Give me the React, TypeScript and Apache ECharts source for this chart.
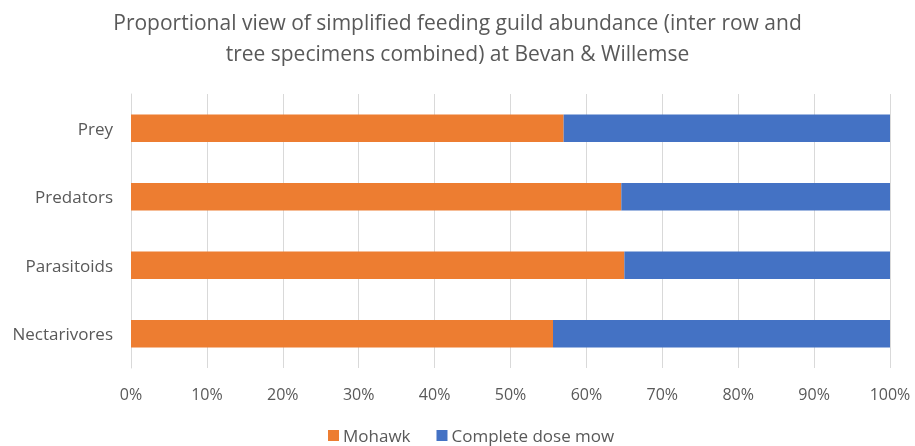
import React, { useEffect, useRef } from "react";
import * as echarts from "echarts";

const categories = ["Nectarivores", "Parasitoids", "Predators", "Prey"];
const mohawk = [55.6, 65.0, 64.6, 57.0];
const completeDoseMow = [44.4, 35.0, 35.4, 43.0];
const titleText =
  "Proportional view of simplified feeding guild abundance (inter row and\ntree specimens combined) at Bevan & Willemse";

const FONT = "'Open Sans', 'Noto Sans', sans-serif";

export default function App() {
  const ref = useRef<HTMLDivElement>(null);
  useEffect(() => {
    if (!ref.current) return;
    const chart = echarts.init(ref.current, undefined, { renderer: "svg" });
    chart.setOption({
      animation: false,
      textStyle: { fontFamily: FONT },
      title: {
        text: titleText,
        left: "center",
        top: 1,
        textStyle: {
          fontFamily: FONT,
          fontSize: 21,
          fontWeight: "normal",
          color: "#595959",
          lineHeight: 31,
        },
      },
      legend: {
        bottom: -3,
        left: 323,
        itemWidth: 11,
        itemHeight: 11,
        itemGap: 26,
        icon: "rect",
        textStyle: { fontFamily: FONT, fontSize: 17, color: "#595959", padding: [0, 0, 0, -1] },
        data: ["Mohawk", "Complete dose mow"],
      },
      grid: { left: 131, right: 25, top: 94, bottom: 78, containLabel: false },
      xAxis: {
        type: "value",
        min: 0,
        max: 100,
        interval: 10,
        axisLine: { show: false },
        axisTick: { show: false },
        axisLabel: {
          formatter: (v: number) => v + "%",
          fontFamily: FONT,
          fontSize: 16,
          color: "#595959",
          margin: 18,
        },
        splitLine: { show: true, lineStyle: { color: "#d9d9d9", width: 1 } },
      },
      yAxis: {
        type: "category",
        data: categories,
        axisLine: { show: true, lineStyle: { color: "#d9d9d9" } },
        axisTick: { show: false },
        axisLabel: {
          fontFamily: FONT,
          fontSize: 17,
          color: "#595959",
          margin: 18,
        },
      },
      series: [
        {
          name: "Mohawk",
          type: "bar",
          stack: "total",
          data: mohawk,
          barWidth: "40%",
          itemStyle: { color: "#ED7D31" },
        },
        {
          name: "Complete dose mow",
          type: "bar",
          stack: "total",
          data: completeDoseMow,
          barWidth: "40%",
          itemStyle: { color: "#4472C4" },
        },
      ],
    });
    return () => chart.dispose();
  }, []);
  return (
    <div
      ref={ref}
      style={{ position: "fixed", left: 0, top: 0, width: 915, height: 446 }}
    />
  );
}
